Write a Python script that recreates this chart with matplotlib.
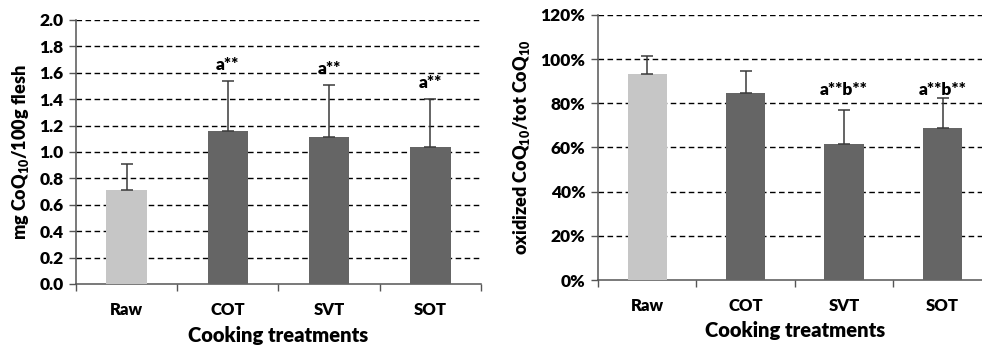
import numpy as np
import matplotlib.pyplot as plt
from matplotlib.ticker import FuncFormatter

plt.rcParams['font.family'] = ['Lato', 'DejaVu Sans']
plt.rcParams['font.weight'] = 'bold'
plt.rcParams['mathtext.fontset'] = 'custom'
plt.rcParams['mathtext.rm'] = 'Lato:weight=bold'
plt.rcParams['mathtext.bf'] = 'Lato:weight=heavy'
plt.rcParams['mathtext.default'] = 'bf'

treatments = ['Raw', 'COT', 'SVT', 'SOT']

# CoQ10 content, mg / 100 g flesh (mean, upper SD)
coq_mean = [0.71, 1.16, 1.11, 1.04]
coq_sd = [0.20, 0.38, 0.40, 0.36]
coq_marks = ['', 'a**', 'a**', 'a**']

# oxidized fraction of total CoQ10, %
ox_mean = [93.5, 84.8, 61.5, 69.0]
ox_sd = [8.0, 9.8, 15.5, 13.5]
ox_marks = ['', '', 'a**b**', 'a**b**']

bar_colors = ['#c6c6c6', '#656565', '#656565', '#656565']
BOLD = 'heavy'

fig = plt.figure(figsize=(9.82, 3.48), dpi=100)
ax1 = fig.add_axes([0.0774, 0.184, 0.4124, 0.7586])
ax2 = fig.add_axes([0.609, 0.1954, 0.401, 0.7615])


def draw_panel(ax, mean, sd, marks, ymax, step, mark_y, fmt, xlab_y):
    x = np.arange(len(treatments)) + 0.5
    ax.bar(x, mean, width=0.4, color=bar_colors, zorder=3)
    ax.errorbar(x, mean, yerr=[np.zeros(len(sd)), sd], fmt='none',
                ecolor='#3a3a3a', elinewidth=1.1, capsize=4, capthick=1.1, zorder=4)
    for xi, m, s, t in zip(x, mean, sd, marks):
        if t:
            ax.text(xi, mark_y(m + s), t, ha='center', va='center',
                    fontsize=12.5, fontweight=BOLD, zorder=5)

    ax.set_xlim(0, len(treatments))
    ax.set_ylim(0, ymax)
    ax.set_yticks(np.arange(0, ymax + step / 2, step))
    ax.yaxis.set_major_formatter(FuncFormatter(fmt))
    for yv in np.arange(step, ymax + step / 2, step):
        ax.axhline(yv, color='black', linestyle=(0, (4, 2.5)), linewidth=1.0, zorder=1)

    ax.set_xticks(x)
    ax.set_xticklabels(treatments)
    ax.tick_params(axis='x', which='major', length=0, pad=13, labelsize=12)
    ax.set_xticks(np.arange(len(treatments) + 1), minor=True)
    ax.tick_params(axis='x', which='minor', length=5, width=1, color='#555555', direction='out')
    ax.tick_params(axis='y', length=5, width=1, color='#555555', labelsize=12.5, pad=4)
    for lab in ax.get_yticklabels() + ax.get_xticklabels():
        lab.set_fontweight(BOLD)

    for side in ['top', 'right']:
        ax.spines[side].set_visible(False)
    for side in ['left', 'bottom']:
        ax.spines[side].set_color('#555555')
        ax.spines[side].set_linewidth(1.1)

    ax.set_xlabel('Cooking treatments', fontsize=14.5, fontweight=BOLD, va='center')
    ax.xaxis.set_label_coords(0.5, xlab_y)


draw_panel(ax1, coq_mean, coq_sd, coq_marks, 2.0, 0.2,
           lambda top: top + 0.12, lambda v, p: f'{v:.1f}', -0.195)
ax1.set_ylabel(r'mg CoQ$_{10}$/100g flesh', fontsize=13, fontweight=BOLD, labelpad=6)

draw_panel(ax2, ox_mean, ox_sd, ox_marks, 120, 20,
           lambda top: 86, lambda v, p: f'{v:.0f}%', -0.19)
ax2.set_ylabel(r'oxidized CoQ$_{10}$/tot CoQ$_{10}$', fontsize=13, fontweight=BOLD, labelpad=6)

fig.savefig('out.png', dpi=100)
